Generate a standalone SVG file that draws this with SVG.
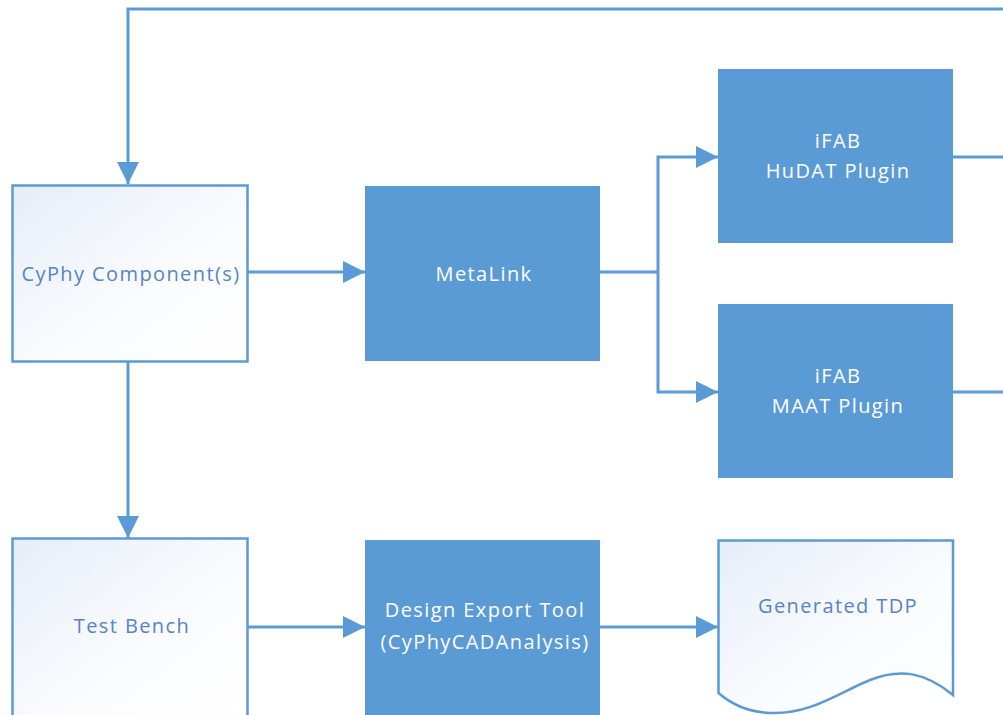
<svg xmlns="http://www.w3.org/2000/svg" width="1003" height="715" viewBox="0 0 1003 715">
<defs>
<linearGradient id="lg" x1="0" y1="0" x2="1" y2="1">
<stop offset="0" stop-color="#e6edf8"/>
<stop offset="0.6" stop-color="#fbfcfe"/>
<stop offset="1" stop-color="#ffffff"/>
</linearGradient>
<marker id="ah" markerUnits="userSpaceOnUse" markerWidth="24" markerHeight="24" viewBox="0 0 24 24" refX="23" refY="12" orient="auto">
<path d="M1,1 L23,12 L1,23 Z" fill="#5b9bd5"/>
</marker>
<style>
.light{fill:url(#lg);stroke:#5b9bd5;stroke-width:2.5}
.dark{fill:#5b9bd5;stroke:none}
.lt{font-family:"Open Sans","Noto Sans",sans-serif;font-size:20px;letter-spacing:1.4px;fill:#5585c4;text-anchor:middle}
.wt{font-family:"Open Sans","Noto Sans",sans-serif;font-size:20px;letter-spacing:1.4px;fill:#ffffff;text-anchor:middle}
.c{fill:none;stroke:#5b9bd5;stroke-width:3}
</style>
</defs>
<rect width="1003" height="715" fill="#ffffff"/>
<g id="connectors">
<path class="c" d="M1003,9 H128 V184" marker-end="url(#ah)"/>
<path class="c" d="M248,272 H365" marker-end="url(#ah)"/>
<path class="c" d="M600,272 H658"/>
<path class="c" d="M658,272 V157 H718" marker-end="url(#ah)"/>
<path class="c" d="M658,272 V392 H718" marker-end="url(#ah)"/>
<path class="c" d="M953,157 H1003"/>
<path class="c" d="M953,392 H1003"/>
<path class="c" d="M128,362 V538" marker-end="url(#ah)"/>
<path class="c" d="M248,627 H365" marker-end="url(#ah)"/>
<path class="c" d="M600,627 H718" marker-end="url(#ah)"/>
</g>
<g id="cyphy">
<rect class="light" x="12.5" y="185.5" width="235" height="176"/>
<text class="lt" x="131" y="281">CyPhy Component(s)</text>
</g>
<g id="metalink">
<rect class="dark" x="365" y="186" width="235" height="175"/>
<text class="wt" x="484" y="281">MetaLink</text>
</g>
<g id="hudat">
<rect class="dark" x="718" y="69" width="235" height="174"/>
<text class="wt" x="838" y="148">iFAB</text>
<text class="wt" x="838" y="178">HuDAT Plugin</text>
</g>
<g id="maat">
<rect class="dark" x="718" y="304" width="235" height="174"/>
<text class="wt" x="838" y="383">iFAB</text>
<text class="wt" x="838" y="413">MAAT Plugin</text>
</g>
<g id="testbench">
<rect class="light" x="12.5" y="538.5" width="235" height="180"/>
<text class="lt" x="132" y="633">Test Bench</text>
</g>
<g id="export">
<rect class="dark" x="365" y="540" width="235" height="180"/>
<text class="wt" x="485" y="617">Design Export Tool</text>
<text class="wt" x="485" y="649">(CyPhyCADAnalysis)</text>
</g>
<g id="tdp">
<path class="light" d="M718.5,540.5 H953 V695 C925,672 900,668 870,680 C840,692 810,715 770,713 C745,712 730,703 718.5,693 Z" stroke-width="1.5"/>
<text class="lt" x="838" y="613">Generated TDP</text>
</g>
</svg>
